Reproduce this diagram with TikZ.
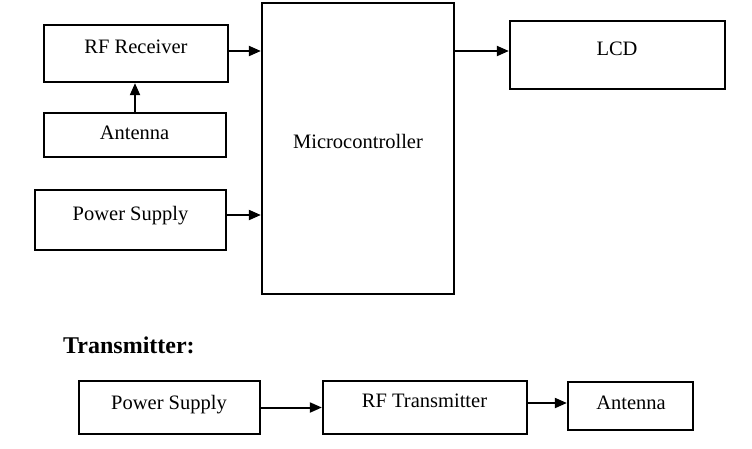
\documentclass[tikz,border=0pt]{standalone}
\usepackage{fontspec}
\setmainfont{Liberation Serif}
\usetikzlibrary{arrows.meta}
\begin{document}
\begin{tikzpicture}[x=1pt,y=-1pt,
  box/.style={draw,line width=2.3pt,inner sep=0pt,rectangle},
  lbl/.style={anchor=base,inner sep=0pt,font=\fontsize{20.5}{24}\selectfont},
  arr/.style={line width=2pt,-{Triangle[length=12pt,width=10pt]}}]
\useasboundingbox (0,0) rectangle (752,448);
% receiver boxes
\node[box,minimum width=184pt,minimum height=57pt] (rfr) at (136,53.5) {};
\node[box,minimum width=182pt,minimum height=44pt] (ant) at (135,135) {};
\node[box,minimum width=191pt,minimum height=60pt] (ps) at (130.5,220) {};
\node[box,minimum width=192pt,minimum height=291pt] (mc) at (358,148.5) {};
\node[box,minimum width=215pt,minimum height=68pt] (lcd) at (617.5,55) {};
% transmitter boxes
\node[box,minimum width=181pt,minimum height=53pt] (psb) at (169.5,407.5) {};
\node[box,minimum width=204pt,minimum height=53pt] (rftx) at (425,407.5) {};
\node[box,minimum width=125pt,minimum height=48pt] (antb) at (630.5,406) {};
% texts
\node[lbl] (trfr) at (136,53) {RF Receiver};
\node[lbl] (tant) at (134.5,139) {Antenna};
\node[lbl] (tps) at (130.5,220) {Power Supply};
\node[lbl] (tmc) at (358,148) {Microcontroller};
\node[lbl] (tlcd) at (617,55) {LCD};
\node[lbl,anchor=base west,font=\fontsize{24}{28}\selectfont\bfseries] (ttx) at (63,353) {Transmitter:};
\node[lbl] (tpsb) at (169,409) {Power Supply};
\node[lbl] (trftx) at (424.5,407) {RF Transmitter};
\node[lbl] (tantb) at (631,409) {Antenna};
% connectors
\draw[arr] ([yshift=2.5pt]rfr.east) -- ([yshift=2.5pt]rfr.east -| mc.west);
\draw[arr] (ant.north) -- (ant.north |- rfr.south);
\draw[arr] ([yshift=5pt]ps.east) -- ([yshift=5pt]ps.east -| mc.west);
\draw[arr] ([yshift=4pt]lcd.west -| mc.east) -- ([yshift=4pt]lcd.west);
\draw[arr] (psb.east) -- (psb.east -| rftx.west);
\draw[arr] ([yshift=3pt]antb.west -| rftx.east) -- ([yshift=3pt]antb.west);
\end{tikzpicture}
\end{document}
